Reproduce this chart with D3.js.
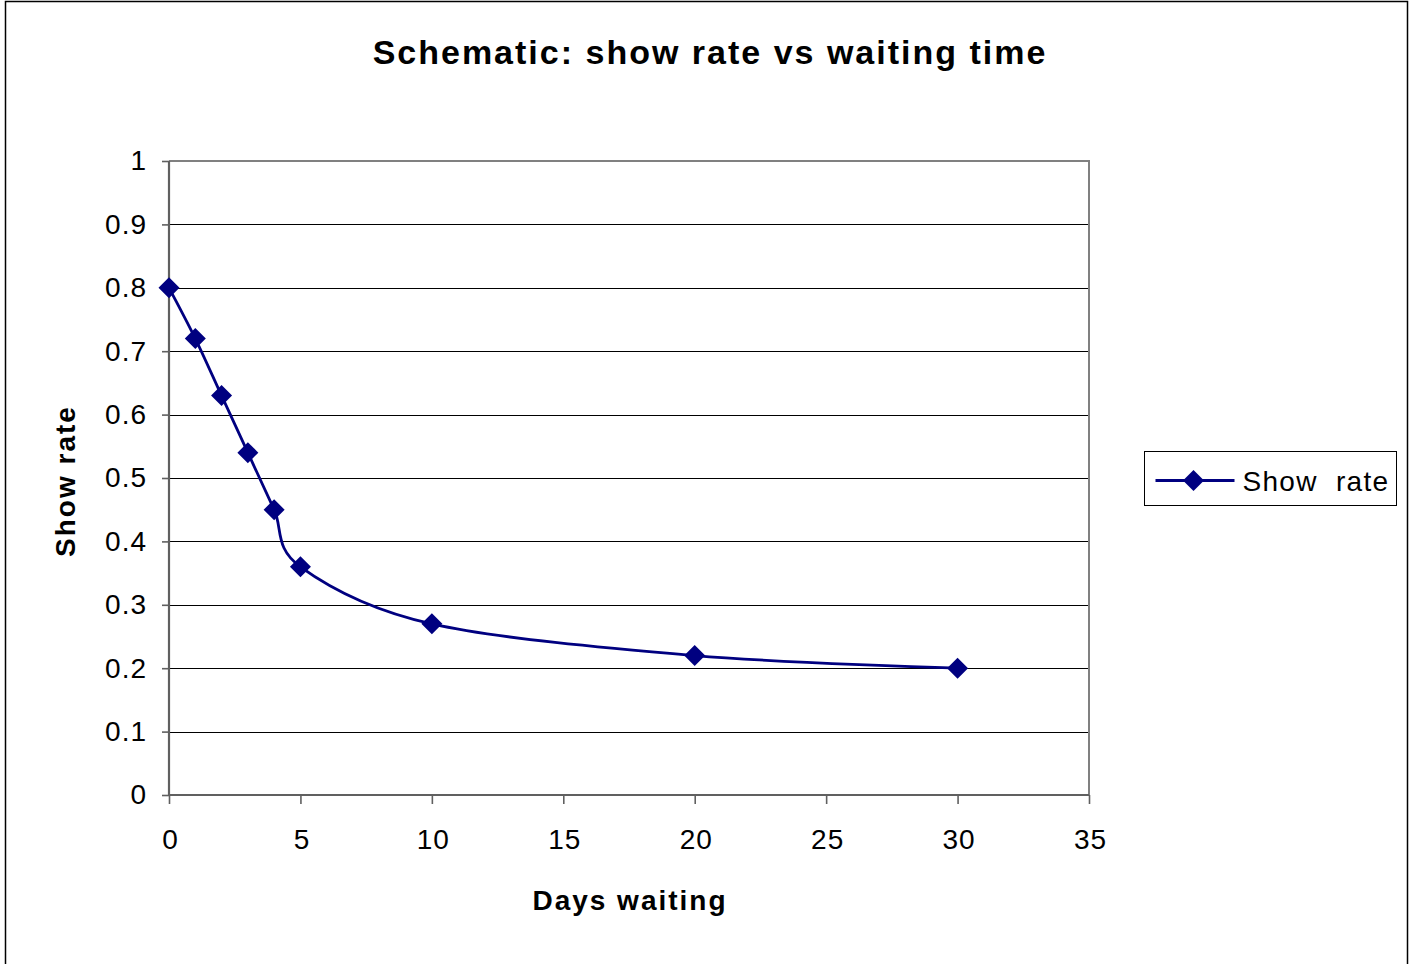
<!DOCTYPE html>
<html>
<head>
<meta charset="utf-8">
<script src="https://cdn.jsdelivr.net/npm/d3@7"></script>
<style>
  html, body { margin: 0; padding: 0; background: #fff; }
  svg { display: block; font-family: "Liberation Sans", Arial, sans-serif; }
</style>
</head>
<body>
<svg id="chart" width="1410" height="964"></svg>
<script>
// Show rate against days of waiting
const days = [0, 1, 2, 3, 4, 5, 10, 20, 30];
const showRate = [0.80, 0.72, 0.63, 0.54, 0.45, 0.36, 0.27, 0.22, 0.20];
const xTicks = [0, 5, 10, 15, 20, 25, 30, 35];
const yTicks = [0, 0.1, 0.2, 0.3, 0.4, 0.5, 0.6, 0.7, 0.8, 0.9, 1];
const seriesName = "Show  rate";

const svg = d3.select("#chart");
const navy = "#000080";

// outer chart frame
svg.append("rect")
  .attr("x", 5.5).attr("y", 1.5)
  .attr("width", 1402).attr("height", 970)
  .attr("fill", "#fff").attr("stroke", "#000").attr("stroke-width", 1.5);

const plot = { left: 169, top: 161, right: 1089, bottom: 795 };

const x = d3.scaleLinear().domain([0, 35]).range([plot.left, plot.right]);
const y = d3.scaleLinear().domain([0, 1]).range([plot.bottom, plot.top]);

// gridlines
svg.append("g")
  .selectAll("line")
  .data(yTicks.filter(d => d > 0 && d < 1))
  .join("line")
  .attr("x1", plot.left).attr("x2", plot.right)
  .attr("y1", d => Math.round(y(d)) + 0.5).attr("y2", d => Math.round(y(d)) + 0.5)
  .attr("stroke", "#000").attr("stroke-width", 1);

// plot area border (top and right)
svg.append("path")
  .attr("d", `M${plot.left},${plot.top}H${plot.right}V${plot.bottom}`)
  .attr("fill", "none").attr("stroke", "#808080").attr("stroke-width", 2);

// y axis
const yAxis = svg.append("g")
  .attr("transform", `translate(${plot.left},0)`)
  .call(d3.axisLeft(y).tickValues(yTicks).tickFormat(d => String(+d.toFixed(1))).tickSize(7).tickPadding(15));
// x axis
const xAxis = svg.append("g")
  .attr("transform", `translate(0,${plot.bottom})`)
  .call(d3.axisBottom(x).tickValues(xTicks).tickSize(9).tickPadding(25));

[yAxis, xAxis].forEach(g => {
  g.select(".domain").attr("stroke", "#606060").attr("stroke-width", 2.2);
  g.selectAll(".tick line").attr("stroke", "#606060").attr("stroke-width", 1.6);
  g.selectAll(".tick text")
    .attr("fill", "#000")
    .style("font-family", "'Liberation Sans', Arial, sans-serif")
    .style("font-size", "28px")
    .style("letter-spacing", "1px");
});
xAxis.selectAll(".tick text").attr("dx", "1px");
yAxis.select(".domain").attr("d", `M0,${plot.bottom}V${plot.top}`);
xAxis.select(".domain").attr("d", `M${plot.left},0H${plot.right}`);

// series line (smoothed)
const pts = days.map((d, i) => [d, showRate[i]]);
svg.append("path")
  .datum(pts)
  .attr("d", d3.line().x(d => x(d[0])).y(d => y(d[1])).curve(d3.curveCardinal.tension(0)))
  .attr("fill", "none").attr("stroke", navy).attr("stroke-width", 2.8);

// diamond markers
const diamond = "M0,-10.5L10.5,0L0,10.5L-10.5,0Z";
svg.append("g")
  .selectAll("path")
  .data(pts)
  .join("path")
  .attr("transform", d => `translate(${x(d[0])},${y(d[1])})`)
  .attr("d", diamond)
  .attr("fill", navy);

// title
svg.append("text")
  .attr("x", 710).attr("y", 64)
  .attr("text-anchor", "middle")
  .style("font-size", "34px").style("font-weight", "bold").style("letter-spacing", "2px")
  .text("Schematic: show rate vs waiting time");

// axis titles
svg.append("text")
  .attr("x", 630).attr("y", 910)
  .attr("text-anchor", "middle")
  .style("font-size", "28px").style("font-weight", "bold").style("letter-spacing", "2px")
  .text("Days waiting");
svg.append("text")
  .attr("transform", "translate(75,481) rotate(-90)")
  .attr("text-anchor", "middle")
  .style("font-size", "28px").style("font-weight", "bold").style("letter-spacing", "2px")
  .text("Show rate");

// legend
const lg = svg.append("g").attr("transform", "translate(1144.5,451.5)");
lg.append("rect").attr("width", 252).attr("height", 54)
  .attr("fill", "#fff").attr("stroke", "#000").attr("stroke-width", 1);
lg.append("line").attr("x1", 11).attr("x2", 90).attr("y1", 29).attr("y2", 29)
  .attr("stroke", navy).attr("stroke-width", 2.8);
lg.append("path").attr("transform", "translate(49,29)").attr("d", diamond).attr("fill", navy);
lg.append("text").attr("x", 98).attr("y", 39)
  .style("font-size", "28px").style("letter-spacing", "1.3px").style("white-space", "pre")
  .text(seriesName);
</script>
</body>
</html>
